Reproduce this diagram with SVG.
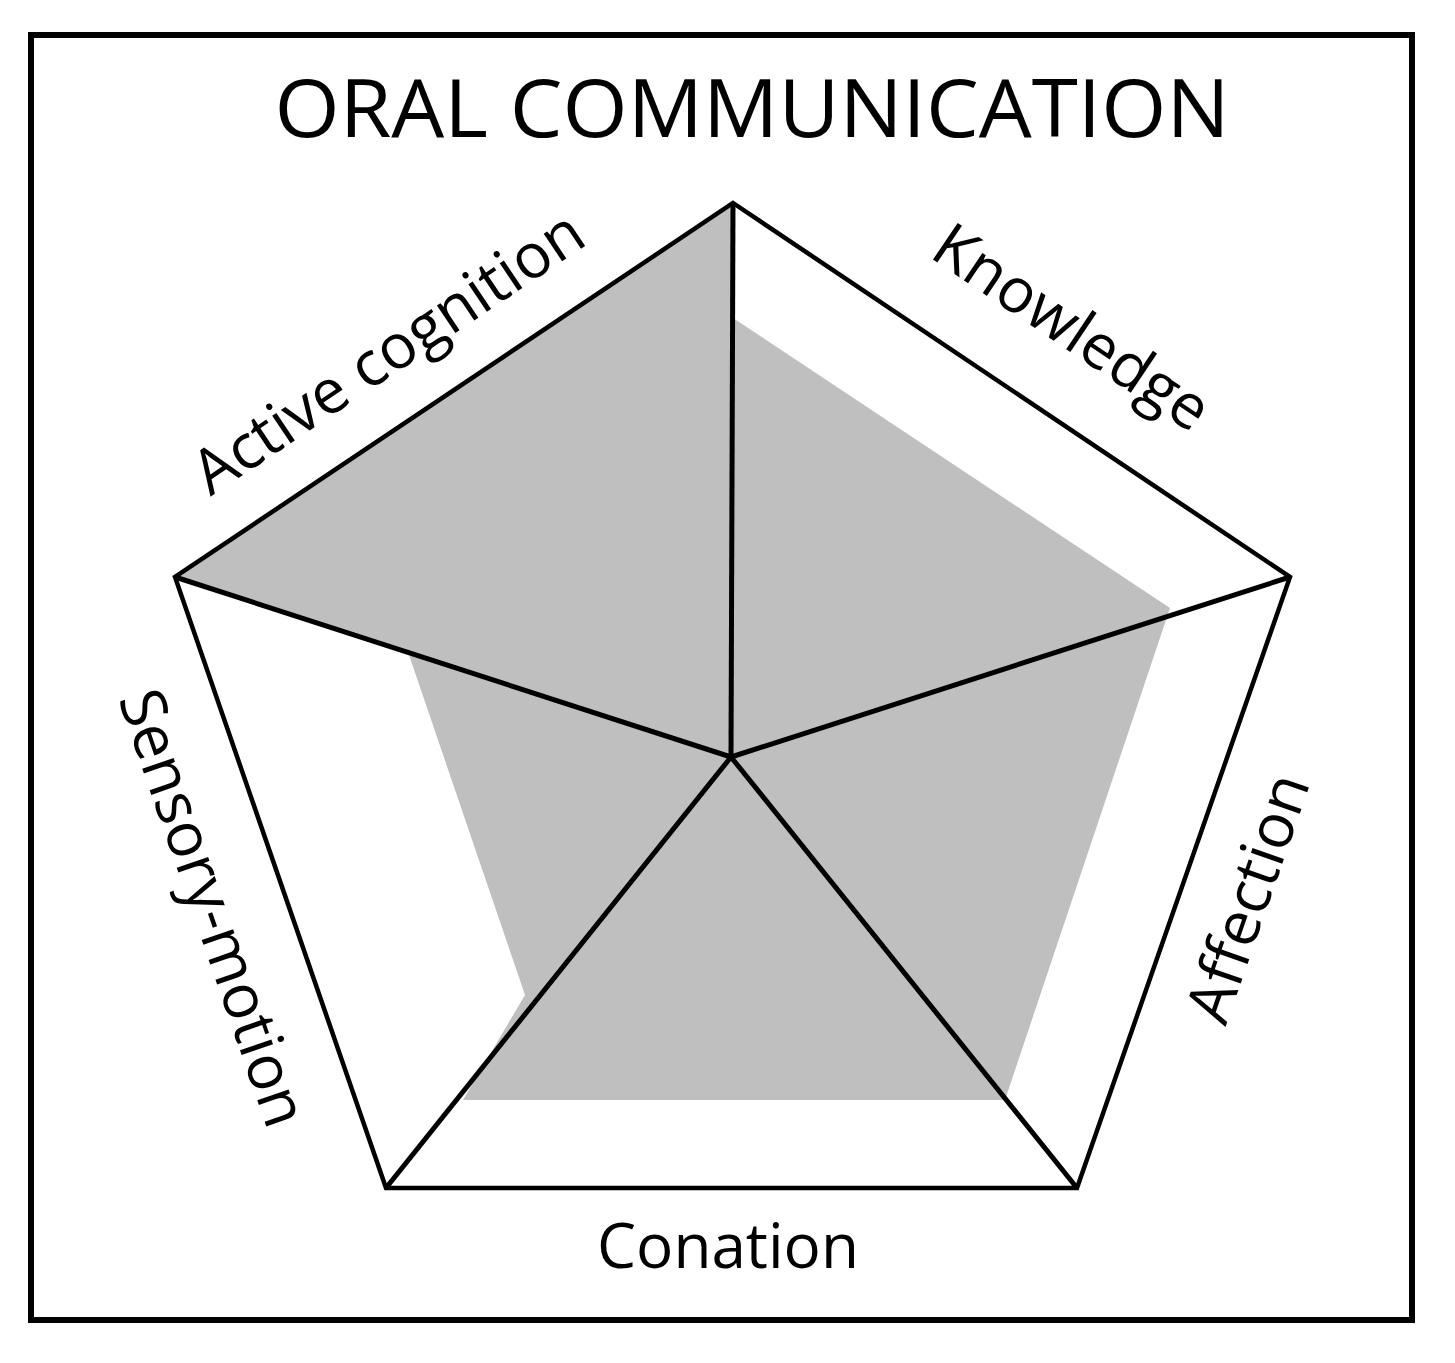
<svg xmlns="http://www.w3.org/2000/svg" width="1455" height="1363" viewBox="0 0 1455 1363">
<style>
.t{font-family:"Open Sans","Liberation Sans",sans-serif;fill:#000;text-anchor:middle}
.l{font-size:62px}
</style>
<rect width="1455" height="1363" fill="#fff"/>
<rect x="31" y="35" width="1381" height="1285" fill="#fff" stroke="#000" stroke-width="6"/>
<text class="t" x="752" y="137" font-size="80" textLength="955" lengthAdjust="spacingAndGlyphs">ORAL COMMUNICATION</text>
<g id="chart">
<polygon points="733,203 733,318 1170,608 1005,1100 463,1100 525,995 408,652 175,577" fill="#bfbfbf"/>
<polygon points="733,203 1290,577 1077,1188 386,1188 175,577" fill="none" stroke="#000" stroke-width="4.5" stroke-linejoin="miter"/>
</g>
<g id="spokes" stroke="#000" stroke-width="5">
<line x1="731" y1="757" x2="733" y2="203"/>
<line x1="731" y1="757" x2="1290" y2="577"/>
<line x1="731" y1="757" x2="1077" y2="1188"/>
<line x1="731" y1="757" x2="386" y2="1188"/>
<line x1="731" y1="757" x2="175" y2="577"/>
</g>
<g id="labels">
<text class="t l" transform="translate(400,370) rotate(-33.8)">Active cognition</text>
<text class="t l" transform="translate(1060,345) rotate(33.9)">Knowledge</text>
<text class="t l" transform="translate(1268,905) rotate(-70.8)">Affection</text>
<text class="t l" transform="translate(193,915) rotate(70.9)">Sensory-motion</text>
<text class="t l" x="728" y="1268">Conation</text>
</g>
</svg>
